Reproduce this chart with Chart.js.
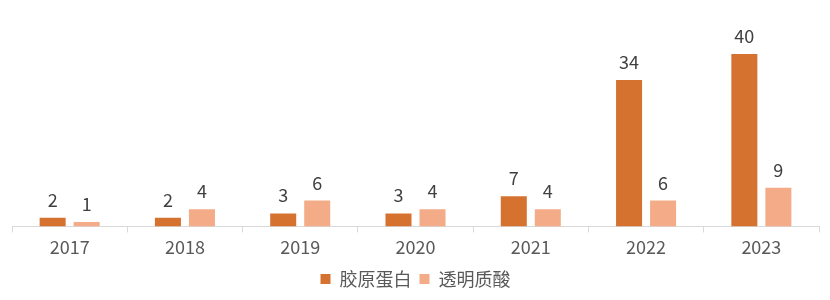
<!DOCTYPE html>
<html>
<head>
<meta charset="utf-8">
<script src="https://cdn.jsdelivr.net/npm/chart.js@4"></script>
<style>
  html, body { margin: 0; padding: 0; background: #fff; }
  #wrap { width: 830px; height: 300px; }
</style>
</head>
<body>
<div id="wrap"><canvas id="myChart"></canvas></div>
<script>
var years = ['2017', '2018', '2019', '2020', '2021', '2022', '2023'];
var collagen = [2, 2, 3, 3, 7, 34, 40];
var hyaluronic = [1, 4, 6, 4, 4, 6, 9];
var seriesNames = ['胶原蛋白', '透明质酸'];

var fontFamily = '"Noto Sans CJK SC", "Noto Sans", sans-serif';

// draw value labels above each bar
var valueLabels = {
    id: 'valueLabels',
    afterDatasetsDraw: function(chart) {
        var ctx = chart.ctx;
        ctx.save();
        ctx.font = '18px ' + fontFamily;
        ctx.fillStyle = '#404040';
        ctx.textAlign = 'center';
        ctx.textBaseline = 'alphabetic';
        chart.data.datasets.forEach(function(ds, i) {
            chart.getDatasetMeta(i).data.forEach(function(bar, j) {
                ctx.fillText(ds.data[j], bar.x, bar.y - 11);
            });
        });
        ctx.restore();
    }
};

var ctx = document.getElementById('myChart').getContext('2d');
var chart = new Chart(ctx, {
    type: 'bar',
    data: {
        labels: years,
        datasets: [{
            label: seriesNames[0],
            data: collagen,
            backgroundColor: '#D57230',
            categoryPercentage: 0.59,
            barPercentage: 0.765
        }, {
            label: seriesNames[1],
            data: hyaluronic,
            backgroundColor: '#F4AB88',
            categoryPercentage: 0.59,
            barPercentage: 0.765
        }]
    },
    options: {
        responsive: true,
        maintainAspectRatio: false,
        animation: false,
        layout: {
            padding: { left: 12, right: 11, top: 11, bottom: 2 }
        },
        plugins: {
            legend: {
                position: 'bottom',
                labels: {
                    boxWidth: 10,
                    boxHeight: 10,
                    padding: 8,
                    color: '#595959',
                    font: { size: 18, family: fontFamily }
                }
            },
            tooltip: { enabled: false }
        },
        scales: {
            x: {
                grid: {
                    display: true,
                    drawOnChartArea: false,
                    drawTicks: true,
                    tickLength: 6,
                    color: '#d9d9d9'
                },
                border: { display: true, color: '#d9d9d9' },
                ticks: {
                    color: '#595959',
                    padding: 4,
                    font: { size: 18, family: fontFamily }
                }
            },
            y: {
                display: false,
                min: 0,
                max: 50
            }
        }
    },
    plugins: [valueLabels]
});
</script>
</body>
</html>
